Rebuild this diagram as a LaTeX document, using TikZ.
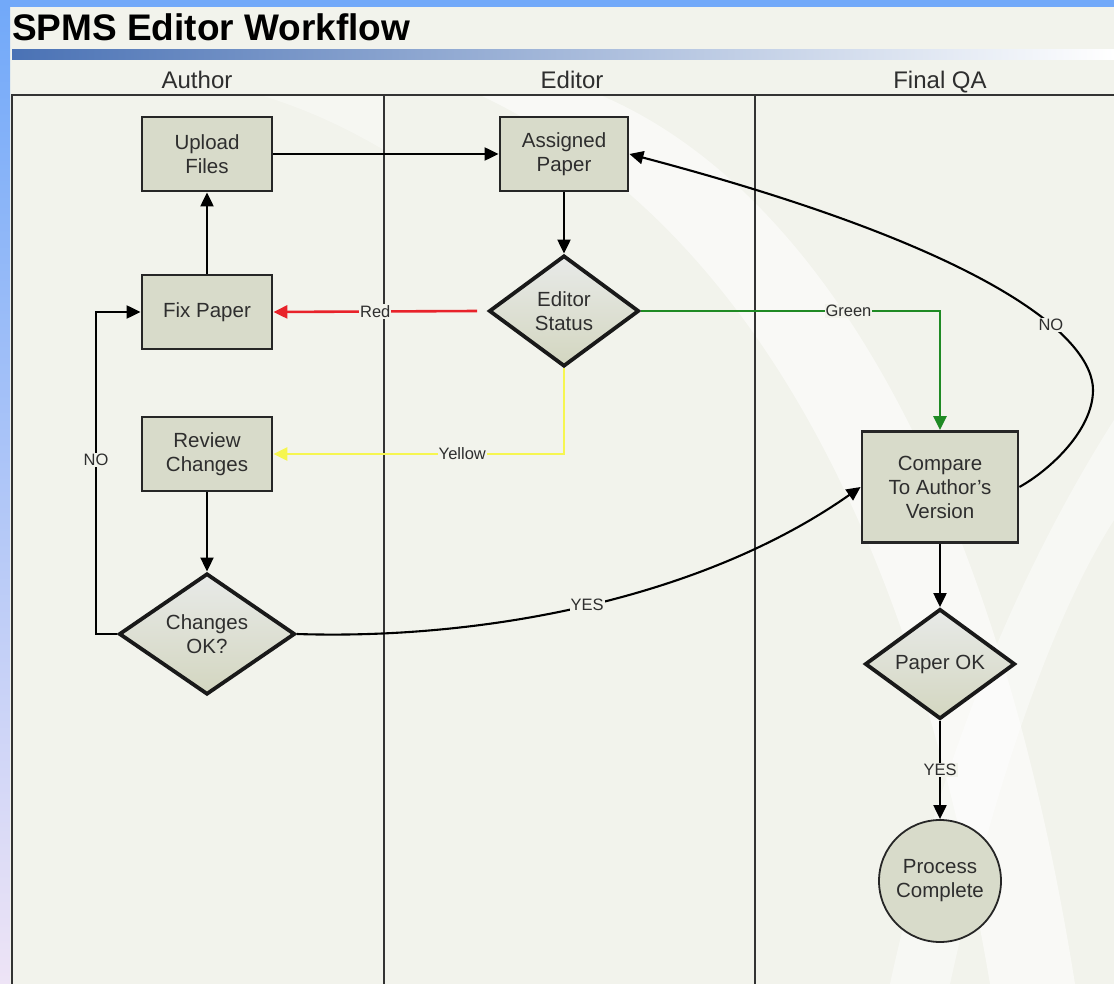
\documentclass[tikz,border=0pt]{standalone}
\usepackage{fontspec}
\setmainfont{Liberation Sans}
\usetikzlibrary{shapes.geometric,arrows.meta}
\definecolor{bg}{HTML}{F2F3EC}
\definecolor{nodefill}{HTML}{D8DBCA}
\definecolor{diamtop}{HTML}{E8EAE8}
\definecolor{diambot}{HTML}{D3D6C0}
\definecolor{frameblue}{HTML}{72A9F9}
\definecolor{framelav}{HTML}{EEE4F6}
\definecolor{titleblue}{HTML}{4A72B5}
\definecolor{midblue}{HTML}{A9BEDF}
\definecolor{lanecol}{HTML}{333333}
\definecolor{txt}{HTML}{2E2E2E}
\definecolor{redline}{HTML}{E8222A}
\definecolor{greenline}{HTML}{1F8A24}
\definecolor{yellowline}{HTML}{F6F650}
\tikzset{
  nodetext/.style={font=\fontsize{20.5}{24}\selectfont, text=txt, align=center},
  boxnode/.style={nodetext, rectangle, draw=black!85, line width=2.8pt, fill=nodefill, inner sep=0pt},
  decnode/.style={nodetext, diamond, draw=black!90, line width=3.8pt, top color=diamtop, bottom color=diambot, inner sep=0pt},
  endnode/.style={nodetext, circle, draw=black!85, line width=1.8pt, fill=nodefill, inner sep=0pt, minimum size=122pt},
  arr/.style={line width=2.1pt, draw=black, -{Triangle[length=14pt,width=13pt]}},
  colarr/.style={arr, line width=2.6pt},
  lbl/.style={font=\fontsize{16.5}{18}\selectfont, text=txt, fill=bg, inner sep=1pt},
  lanetitle/.style={font=\fontsize{24}{26}\selectfont, text=txt, inner sep=0pt, anchor=base},
  laneline/.style={draw=lanecol, line width=1.6pt}
}
\begin{document}
\begin{tikzpicture}[x=1pt,y=-1pt]
\useasboundingbox (0,0) rectangle (1114,984);
% background
\fill[bg] (0,0) rectangle (1114,984);
% soft white swooshes
\fill[white, opacity=0.55] (480,95) .. controls (700,200) and (900,450) .. (990,984) -- (1075,984) .. controls (990,450) and (800,180) .. (600,95) -- cycle;
\fill[white, opacity=0.45] (1114,420) .. controls (1000,600) and (930,800) .. (890,984) -- (950,984) .. controls (990,800) and (1050,620) .. (1114,520) -- cycle;
\fill[white, opacity=0.35] (260,95) .. controls (310,110) and (350,130) .. (384,150) -- (384,95) -- cycle;
% frame
\fill[frameblue] (0,0) rectangle (1114,7);
\shade[top color=frameblue, bottom color=framelav] (0,7) rectangle (10,984);
% title
\node[anchor=base west, inner sep=0pt, font=\fontsize{37}{40}\selectfont\bfseries, text=black] (title) at (12,41) {SPMS Editor Workflow};
\shade[left color=titleblue, middle color=midblue, right color=white] (12,50) rectangle (1114,60);
% lane titles
\node[lanetitle] (tauthor) at (197,89) {Author};
\node[lanetitle] (teditor) at (572,89) {Editor};
\node[lanetitle] (tqa) at (940,89) {Final QA};
% pool lines
\draw[laneline] (1114,95) -- (12,95) -- (12,984);
\draw[laneline] (384,95) -- (384,984);
\draw[laneline] (755,95) -- (755,984);
% nodes
\node[boxnode, minimum width=130pt, minimum height=74pt] (upload) at (207,154) {Upload\\Files};
\node[boxnode, minimum width=130pt, minimum height=74pt] (fix) at (207,312) {Fix Paper};
\node[boxnode, minimum width=130pt, minimum height=74pt] (review) at (207,454) {Review\\Changes};
\node[decnode, minimum width=176pt, minimum height=115pt] (changes) at (207,634) {Changes\\OK?};
\node[boxnode, minimum width=128pt, minimum height=74pt] (assigned) at (564,154) {Assigned\\Paper};
\node[decnode, minimum width=150pt, minimum height=111pt] (status) at (564,311) {Editor\\Status};
\node[boxnode, minimum width=156pt, minimum height=111pt] (compare) at (940,487) {Compare\\To Author’s\\Version};
\node[decnode, minimum width=150pt, minimum height=110pt] (paperok) at (940,664) {Paper OK};
\node[endnode] (complete) at (940,881) {Process\\Complete};
% connectors
\draw[arr] (upload) -- (assigned);
\draw[arr] (fix) -- (upload);
\draw[arr] (assigned) -- (status);
\draw[colarr, draw=redline, color=redline] ([xshift=-10pt]status.west) -- node[lbl, pos=0.5] {Red} (fix.east);
\draw[colarr, draw=yellowline, color=yellowline] (status.south) |- node[lbl, pos=0.675] {Yellow} (review.east);
\draw[colarr, draw=greenline, color=greenline] (status.east) -| node[lbl, pos=0.347] {Green} (compare.north);
\draw[arr] (review) -- (changes);
\coordinate (noc) at (96,634);
\draw[arr] (changes.west) -- (noc) |- node[lbl, pos=0.27] {NO} (fix.west);
\draw[arr] (changes.east) .. controls (480,640) and (700,600) .. node[lbl, pos=0.5] {YES} (compare.west);
\coordinate (nomax) at (1093,390);
\draw[arr] (compare.east) .. controls (1050,470) and (1093,430) .. (nomax) .. controls (1093,340) and (1000,252) .. node[lbl, pos=0.35] {NO} (assigned.east);
\draw[arr] (compare) -- (paperok);
\draw[arr] (paperok) -- node[lbl, pos=0.5] {YES} (complete);
\end{tikzpicture}
\end{document}
